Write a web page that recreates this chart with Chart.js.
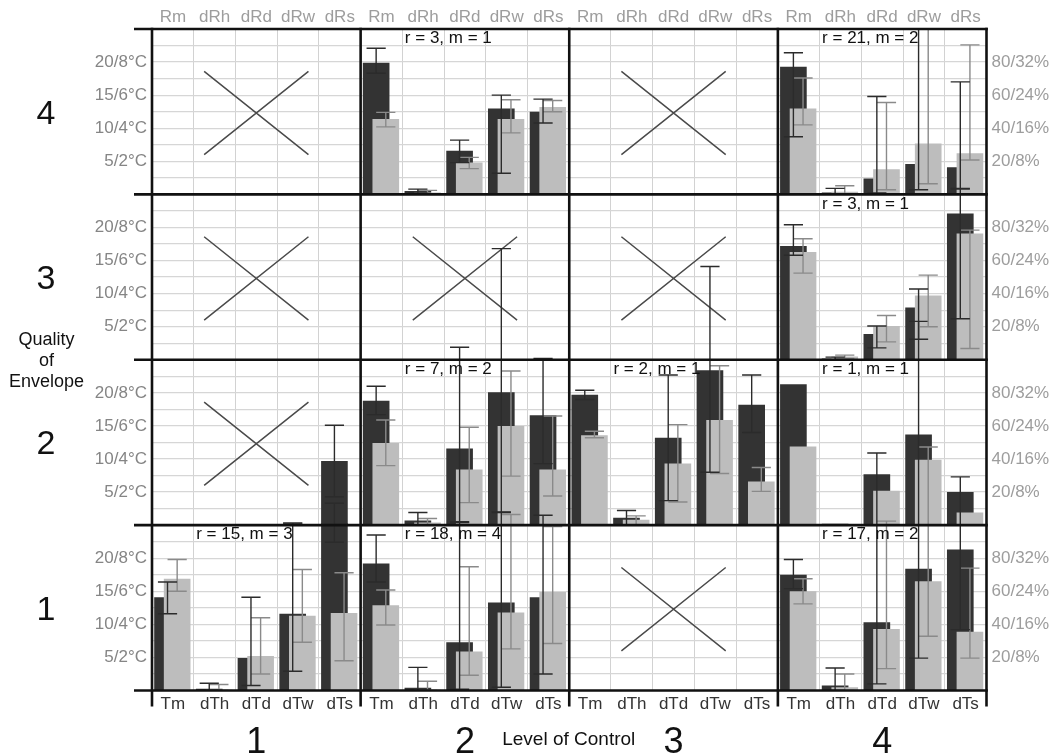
<!DOCTYPE html>
<html>
<head>
<meta charset="utf-8">
<title>Quality of Envelope × Level of Control</title>
<style>
  html, body { margin: 0; padding: 0; background: #ffffff; }
  #wrap { position: relative; width: 1056px; height: 753px; }
  canvas { display: block; }
</style>
<script src="https://cdn.jsdelivr.net/npm/chart.js@4.4.1/dist/chart.umd.min.js"></script>
</head>
<body>
<div id="wrap"><canvas id="grid" width="1056" height="753"></canvas></div>
<script>
// ---- labels -------------------------------------------------------------
const topMeasures = ['Rm', 'dRh', 'dRd', 'dRw', 'dRs'];
const bottomMeasures = ['Tm', 'dTh', 'dTd', 'dTw', 'dTs'];
const controlLevels = ['1', '2', '3', '4'];
const envelopeLevels = ['1', '2', '3', '4'];
const leftTickLabels = { 5: '5/2°C', 10: '10/4°C', 15: '15/6°C', 20: '20/8°C' };
const rightTickLabels = { 5: '20/8%', 10: '40/16%', 15: '60/24%', 20: '80/32%' };

// ---- values: each row lists control 1..4, five measures each ----------
const N = null;
// envelope quality 1
const darkQ1    = [14.1, 0.25, 4.9, 11.6, 25.3,  19.2, 0.4, 7.3, 13.3, 14.1,  N, N, N, N, N,  17.5, 0.75, 10.3, 18.4, 21.3];
const darkQ1Lo  = [11.6, 0, 0.75, 2.9, 22.4,     16.4, 0, 0.2, 0.5, 2.5,      N, N, N, N, N,  15.4, 0, 1.0, 4.9, 9.2];
const darkQ1Hi  = [16.4, 1.1, 14.1, 25.3, 28.3,  23.5, 3.5, 25.4, 26.9, 26.5, N, N, N, N, N,  19.8, 3.4, 35.9, 55.8, 32.3];
const lightQ1   = [16.9, 0.1, 5.2, 11.3, 11.7,   12.9, 0.1, 5.9, 11.8, 14.9,  N, N, N, N, N,  15.0, 0.5, 9.3, 16.5, 8.9];
const lightQ1Lo = [15.0, 0, 2.5, 7.3, 4.5,       9.9, 0, 2.3, 6.3, 7.1,       N, N, N, N, N,  13.1, 0, 3.3, 8.2, 4.9];
const lightQ1Hi = [19.8, 0.9, 11.0, 18.3, 17.8,  15.2, 1.4, 18.7, 26.6, 24.8, N, N, N, N, N,  16.9, 2.5, 25.6, 36.8, 18.5];
// envelope quality 2
const darkQ2    = [N, N, N, 0.05, 9.7,  18.8, 0.7, 11.6, 20.1, 16.6,  19.7, 1.1, 13.2, 23.4, 18.2,  21.3, 0.2, 7.7, 13.7, 5.0];
const darkQ2Lo  = [N, N, N, 0, 4.3,     16.7, 0, 0.5, 2.0, 9.3,       19.0, 0, 3.7, 8.0, 14.0,     N, N, N, N, N];
const darkQ2Hi  = [N, N, N, 0.3, 15.1,  21.0, 1.9, 26.9, 41.8, 25.2,  20.4, 2.2, 22.7, 39.1, 22.7,  N, N, N, N, N];
const lightQ2   = [N, N, N, N, N,       12.4, 0.4, 8.4, 15.0, 8.4,    13.6, 0.8, 9.3, 15.9, 6.6,    11.9, 0.1, 5.2, 9.9, 1.9];
const lightQ2Lo = [N, N, N, N, N,       9.0, 0, 3.4, 7.4, 4.4,        13.2, 0, 3.5, 7.8, 5.1,       N, N, N, N, N];
const lightQ2Hi = [N, N, N, N, N,       15.9, 1.0, 14.8, 23.3, 16.5,  14.2, 1.4, 15.2, 24.1, 8.7,   N, N, N, N, N];
// envelope quality 3
const darkQ3    = [N, N, N, N, N,  N, N, N, N, N,  N, N, N, N, N,  17.2, 0.2, 3.9, 7.9, 22.1];
const darkQ3Lo  = [N, N, N, N, N,  N, N, N, N, N,  N, N, N, N, N,  15.8, 0, 1.8, 3.1, 6.2];
const darkQ3Hi  = [N, N, N, N, N,  N, N, N, N, N,  N, N, N, N, N,  20.4, 0.4, 5.1, 10.7, 25.8];
const lightQ3   = [N, N, N, N, N,  N, N, N, N, N,  N, N, N, N, N,  16.3, 0.5, 5.1, 9.7, 19.1];
const lightQ3Lo = [N, N, N, N, N,  N, N, N, N, N,  N, N, N, N, N,  13.1, 0.2, 2.7, 5.0, 1.7];
const lightQ3Hi = [N, N, N, N, N,  N, N, N, N, N,  N, N, N, N, N,  18.3, 0.7, 6.7, 12.8, 19.6];
// envelope quality 4
const darkQ4    = [N, N, N, N, N,  19.9, 0.5, 6.6, 13.0, 12.5,  N, N, N, N, N,  19.3, 0.3, 2.4, 4.6, 4.1];
const darkQ4Lo  = [N, N, N, N, N,  18.3, 0.2, 4.8, 3.2, 10.8,   N, N, N, N, N,  8.7, 0, 0.2, 0.7, 0.9];
const darkQ4Hi  = [N, N, N, N, N,  22.1, 0.8, 8.2, 15.0, 14.4,  N, N, N, N, N,  21.4, 0.9, 14.8, 28, 17.0];
const lightQ4   = [N, N, N, N, N,  11.4, 0.3, 4.8, 11.4, 13.2,  N, N, N, N, N,  13.0, 0.4, 3.8, 7.7, 6.2];
const lightQ4Lo = [N, N, N, N, N,  10.2, 0.1, 3.9, 9.3, 12.5,   N, N, N, N, N,  10.5, 0, 0.7, 1.6, 5.2];
const lightQ4Hi = [N, N, N, N, N,  12.4, 0.6, 5.6, 14.3, 14.2,  N, N, N, N, N,  17.6, 1.3, 13.9, 27, 22.6];

// panel notes: [envelope quality, level of control, text]
const panelNotes = [
  [1, 1, 'r = 15, m = 3'], [1, 2, 'r = 18, m = 4'], [1, 4, 'r = 17, m = 2'],
  [2, 2, 'r = 7, m = 2'],  [2, 3, 'r = 2, m = 1'],  [2, 4, 'r = 1, m = 1'],
  [3, 4, 'r = 3, m = 1'],
  [4, 2, 'r = 3, m = 1'],  [4, 4, 'r = 21, m = 2']
];
// panels without a full set of runs: [envelope quality, level of control]
const emptyPanels = [[1, 3], [2, 1], [3, 1], [3, 2], [3, 3], [4, 1], [4, 3]];

// ---- construction ---------------------------------------------------------
const FONT = '"Liberation Sans", Arial, Helvetica, sans-serif';
const SPAN = 25;                 // value range of one panel row
const MEASURES = 5;              // measures per level of control
const DARK_POS = 0.372;          // bar centres within a measure slot
const LIGHT_POS = 0.603;

const rows = [
  { dark: darkQ1, dLo: darkQ1Lo, dHi: darkQ1Hi, light: lightQ1, lLo: lightQ1Lo, lHi: lightQ1Hi },
  { dark: darkQ2, dLo: darkQ2Lo, dHi: darkQ2Hi, light: lightQ2, lLo: lightQ2Lo, lHi: lightQ2Hi },
  { dark: darkQ3, dLo: darkQ3Lo, dHi: darkQ3Hi, light: lightQ3, lLo: lightQ3Lo, lHi: lightQ3Hi },
  { dark: darkQ4, dLo: darkQ4Lo, dHi: darkQ4Hi, light: lightQ4, lLo: lightQ4Lo, lHi: lightQ4Hi }
];

function points(values, lo, hi, base, pos) {
  const out = [];
  values.forEach((v, i) => {
    if (v === null) return;
    out.push({ x: i + pos, y: [base, base + v], lo: lo[i], hi: hi[i] });
  });
  return out;
}

const datasets = [];
rows.forEach((r, q) => {
  const base = q * SPAN;
  datasets.push({
    label: 'light Q' + envelopeLevels[q],
    data: points(r.light, r.lLo, r.lHi, base, LIGHT_POS),
    backgroundColor: '#bdbdbd', errorColor: '#8a8a8a', order: 0
  });
  datasets.push({
    label: 'dark Q' + envelopeLevels[q],
    data: points(r.dark, r.dLo, r.dHi, base, DARK_POS),
    backgroundColor: '#333333', errorColor: '#2b2b2b', order: 1
  });
});

const xCount = controlLevels.length * MEASURES;
const yMax = envelopeLevels.length * SPAN;
const xGridValues = Array.from({ length: xCount + 1 }, (_, i) => i);
const yGridValues = Array.from({ length: yMax / 2.5 + 1 }, (_, i) => i * 2.5);
const topLabels = controlLevels.flatMap(() => topMeasures);
const bottomLabels = controlLevels.flatMap(() => bottomMeasures);

function rowKey(v) { return Math.round((v % SPAN) * 10) / 10; }

// frame, crosses, error bars and annotations
const panelDecor = {
  id: 'panelDecor',
  beforeDatasetsDraw(chart) {
    const { ctx, scales: { x, y } } = chart;
    ctx.save();
    ctx.strokeStyle = '#4a4a4a';
    ctx.lineWidth = 1.5;
    emptyPanels.forEach(([q, c]) => {
      const x0 = x.getPixelForValue((c - 1) * MEASURES + 1.25);
      const x1 = x.getPixelForValue((c - 1) * MEASURES + 3.75);
      const y0 = y.getPixelForValue((q - 1) * SPAN + 18.6);
      const y1 = y.getPixelForValue((q - 1) * SPAN + 6.0);
      ctx.beginPath();
      ctx.moveTo(x0, y0); ctx.lineTo(x1, y1);
      ctx.moveTo(x1, y0); ctx.lineTo(x0, y1);
      ctx.stroke();
    });
    ctx.restore();
  },
  afterDatasetsDraw(chart) {
    const { ctx, chartArea: ca, scales: { x, y } } = chart;
    ctx.save();
    ctx.beginPath();
    ctx.rect(ca.left, ca.top, ca.right - ca.left, ca.bottom - ca.top);
    ctx.clip();
    ctx.lineWidth = 1.4;
    chart.data.datasets.forEach((ds, di) => {
      const meta = chart.getDatasetMeta(di);
      ctx.strokeStyle = ds.errorColor;
      meta.data.forEach((bar, j) => {
        const p = ds.data[j];
        if (p.lo === null || p.lo === undefined) return;
        const base = p.y[0];
        const yl = y.getPixelForValue(base + p.lo);
        const yh = y.getPixelForValue(base + p.hi);
        const half = bar.width * 0.36;
        ctx.beginPath();
        ctx.moveTo(bar.x, yl); ctx.lineTo(bar.x, yh);
        ctx.moveTo(bar.x - half, yl); ctx.lineTo(bar.x + half, yl);
        ctx.moveTo(bar.x - half, yh); ctx.lineTo(bar.x + half, yh);
        ctx.stroke();
      });
    });
    ctx.restore();

    // panel frame with outer stubs
    ctx.save();
    ctx.strokeStyle = '#111111';
    ctx.lineWidth = 2.6;
    ctx.lineCap = 'butt';
    for (let c = 0; c <= controlLevels.length; c++) {
      const px = x.getPixelForValue(c * MEASURES);
      ctx.beginPath();
      ctx.moveTo(px, ca.top - 1.3);
      ctx.lineTo(px, ca.bottom + 16);
      ctx.stroke();
    }
    for (let q = 0; q <= envelopeLevels.length; q++) {
      const py = y.getPixelForValue(q * SPAN);
      ctx.beginPath();
      ctx.moveTo(ca.left - 18, py);
      ctx.lineTo(ca.right + 1.3, py);
      ctx.stroke();
    }
    ctx.restore();

    // run notes
    ctx.save();
    ctx.fillStyle = '#111111';
    ctx.font = '17px ' + FONT;
    ctx.textAlign = 'left';
    ctx.textBaseline = 'middle';
    panelNotes.forEach(([q, c, text]) => {
      const px = x.getPixelForValue((c - 1) * MEASURES + 1) + 2.5;
      const py = y.getPixelForValue(q * SPAN) + 9.5;
      ctx.fillText(text, px, py);
    });
    ctx.restore();
  },
  afterDraw(chart) {
    const { ctx, scales: { x, y } } = chart;
    ctx.save();
    ctx.fillStyle = '#111111';
    ctx.textAlign = 'center';
    // envelope quality numbers
    ctx.font = '34px ' + FONT;
    ctx.textBaseline = 'middle';
    envelopeLevels.forEach((lab, q) => {
      ctx.fillText(lab, 46, y.getPixelForValue(q * SPAN + SPAN / 2) + 2.5);
    });
    ctx.font = '18px ' + FONT;
    const mid = y.getPixelForValue(2 * SPAN);
    ctx.fillText('Quality', 46.5, mid - 20);
    ctx.fillText('of', 46.5, mid + 1);
    ctx.fillText('Envelope', 46.5, mid + 22.5);
    // level of control numbers
    ctx.font = '36px ' + FONT;
    ctx.textBaseline = 'alphabetic';
    controlLevels.forEach((lab, c) => {
      ctx.fillText(lab, x.getPixelForValue(c * MEASURES + MEASURES / 2), 752.5);
    });
    ctx.font = '19px ' + FONT;
    ctx.textBaseline = 'middle';
    ctx.fillText('Level of Control', x.getPixelForValue(2 * MEASURES) - 0.5, 740);
    ctx.restore();
  }
};

new Chart(document.getElementById('grid'), {
  type: 'bar',
  data: { datasets },
  plugins: [panelDecor],
  options: {
    responsive: false,
    animation: false,
    devicePixelRatio: 1,
    layout: { padding: 0 },
    font: { family: FONT },
    plugins: { legend: { display: false }, tooltip: { enabled: false }, title: { display: false } },
    datasets: { bar: { grouped: false, categoryPercentage: 1, barPercentage: 2.765, borderWidth: 0 } },
    scales: {
      x: {
        type: 'linear', position: 'bottom', min: 0, max: xCount, offset: false,
        afterBuildTicks: s => { s.ticks = xGridValues.map(v => ({ value: v })); },
        ticks: { display: false },
        grid: { offset: false, color: '#d2d2d2', lineWidth: 1, drawTicks: false },
        border: { display: false },
        afterFit: s => { s.height = 0; }
      },
      xB: {
        type: 'category', position: 'bottom', labels: bottomLabels, offset: true,
        grid: { display: false, drawTicks: false },
        border: { display: false },
        ticks: { autoSkip: false, maxRotation: 0, minRotation: 0, padding: 3.5,
                 color: '#333333', font: { family: FONT, size: 17 } },
        afterFit: s => { s.height = 62.5; }
      },
      xT: {
        type: 'category', position: 'top', labels: topLabels, offset: true,
        grid: { display: false, drawTicks: false },
        border: { display: false },
        ticks: { autoSkip: false, maxRotation: 0, minRotation: 0, padding: 1.5,
                 color: '#9d9d9d', font: { family: FONT, size: 17 } },
        afterFit: s => { s.height = 29; }
      },
      y: {
        type: 'linear', position: 'left', min: 0, max: yMax, stacked: false,
        afterBuildTicks: s => { s.ticks = yGridValues.map(v => ({ value: v })); },
        grid: { color: '#d6d6d6', lineWidth: 1.2, drawTicks: false },
        border: { display: false },
        ticks: { autoSkip: false, padding: 5, color: '#858585', font: { family: FONT, size: 17 },
                 callback: v => leftTickLabels[rowKey(v)] || '' },
        afterFit: s => { s.width = 152; }
      },
      yR: {
        type: 'linear', position: 'right', min: 0, max: yMax,
        afterBuildTicks: s => { s.ticks = yGridValues.map(v => ({ value: v })); },
        grid: { display: false, drawOnChartArea: false, drawTicks: false },
        border: { display: false },
        ticks: { autoSkip: false, padding: 5, color: '#9d9d9d', font: { family: FONT, size: 17 },
                 callback: v => rightTickLabels[rowKey(v)] || '' },
        afterFit: s => { s.width = 69.5; }
      }
    }
  }
});
</script>
</body>
</html>
